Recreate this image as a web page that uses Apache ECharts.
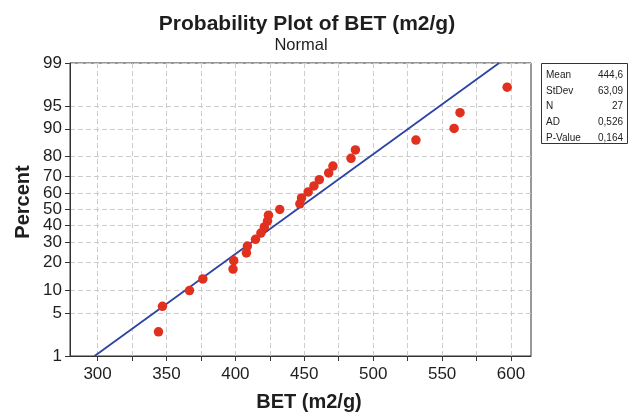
<!DOCTYPE html>
<html>
<head>
<meta charset="utf-8">
<script src="https://cdn.jsdelivr.net/npm/echarts@6/dist/echarts.min.js"></script>
<style>
  html, body { margin: 0; padding: 0; background: #fff; }
  #chart { width: 629px; height: 413px; }
</style>
</head>
<body>
<div id="chart"></div>
<script>
// BET surface area measurements (m2/g), sorted, with their plotting percentages
const betValues = [344.2, 347.1, 366.7, 376.4, 398.3, 398.8, 408.0, 408.7, 414.6, 418.5,
                   421.0, 423.3, 424.0, 432.2, 446.8, 448.0, 452.8, 457.0, 460.9, 467.7,
                   470.8, 483.9, 487.1, 531.0, 558.7, 563.0, 597.2];
const percentValues = [2.6, 6.2, 9.9, 13.5, 17.2, 20.8, 24.5, 28.1, 31.8, 35.4,
                       39.1, 42.7, 46.4, 50.0, 53.6, 57.3, 61.0, 64.6, 68.2, 71.9,
                       75.5, 79.2, 82.8, 86.5, 90.1, 93.8, 97.4];

// Summary statistics table
const statNames = ['Mean', 'StDev', 'N', 'AD', 'P-Value'];
const statTexts = ['444,6', '63,09', '27', '0,526', '0,164'];
const fitMean = 444.6;
const fitStDev = 63.09;

// Axis ticks
const percentTicks = [1, 5, 10, 20, 30, 40, 50, 60, 70, 80, 90, 95, 99];
const betTicks = [300, 325, 350, 375, 400, 425, 450, 475, 500, 525, 550, 575, 600];
const betLabels = [300, 350, 400, 450, 500, 550, 600];

// Inverse standard normal CDF (Acklam's rational approximation)
function normInv(p) {
  const a = [-3.969683028665376e+01, 2.209460984245205e+02, -2.759285104469687e+02,
             1.383577518672690e+02, -3.066479806614716e+01, 2.506628277459239e+00];
  const b = [-5.447609879822406e+01, 1.615858368580409e+02, -1.556989798598866e+02,
             6.680131188771972e+01, -1.328068155288572e+01];
  const c = [-7.784894002430293e-03, -3.223964580411365e-01, -2.400758277161838e+00,
             -2.549671010862040e+00, 4.374664141464968e+00, 2.938163982698783e+00];
  const d = [7.784695709041462e-03, 3.224671290700398e-01, 2.445134137142996e+00,
             3.754408661907416e+00];
  const pl = 0.02425;
  let q, r;
  if (p < pl) {
    q = Math.sqrt(-2 * Math.log(p));
    return (((((c[0]*q+c[1])*q+c[2])*q+c[3])*q+c[4])*q+c[5]) /
           ((((d[0]*q+d[1])*q+d[2])*q+d[3])*q+1);
  }
  if (p <= 1 - pl) {
    q = p - 0.5; r = q * q;
    return (((((a[0]*r+a[1])*r+a[2])*r+a[3])*r+a[4])*r+a[5])*q /
           (((((b[0]*r+b[1])*r+b[2])*r+b[3])*r+b[4])*r+1);
  }
  q = Math.sqrt(-2 * Math.log(1 - p));
  return -(((((c[0]*q+c[1])*q+c[2])*q+c[3])*q+c[4])*q+c[5]) /
          ((((d[0]*q+d[1])*q+d[2])*q+d[3])*q+1);
}
const probit = pct => normInv(pct / 100);

const zMin = probit(percentTicks[0]);
const zMax = probit(percentTicks[percentTicks.length - 1]);
const zTicks = percentTicks.map(probit);

const points = betValues.map((v, i) => [v, probit(percentValues[i])]);
// Fitted normal line across the probability range
const fitLine = [
  [fitMean + zMin * fitStDev, zMin],
  [fitMean + zMax * fitStDev, zMax]
];

const FONT = '"Liberation Sans", Arial, sans-serif';
const gridStyle = { color: '#cccccc', width: 1, type: [5, 3] };

const chart = echarts.init(document.getElementById('chart'), null, { renderer: 'canvas' });

const statGraphics = [{
  type: 'rect',
  shape: { x: 541.5, y: 63.5, width: 86, height: 80 },
  style: { fill: '#fff', stroke: '#333', lineWidth: 1 }
}];
statNames.forEach((name, i) => {
  const y = 75 + i * 15.8;
  statGraphics.push({
    type: 'text', x: 546, y: y,
    style: { text: name, font: '10px ' + FONT, fill: '#222', textVerticalAlign: 'middle' }
  });
  statGraphics.push({
    type: 'text', x: 623, y: y,
    style: { text: statTexts[i], font: '10px ' + FONT, fill: '#222', textAlign: 'right', textVerticalAlign: 'middle' }
  });
});

chart.setOption({
  animation: false,
  backgroundColor: '#fff',
  grid: {
    left: 70, top: 63, width: 461, height: 293,
    show: true, borderColor: '#333', borderWidth: 1, backgroundColor: 'transparent'
  },
  graphic: [
    {
      type: 'text', x: 307, y: 24,
      style: { text: 'Probability Plot of BET (m2/g)', font: 'bold 21px ' + FONT, fill: '#1e1e1e',
               textAlign: 'center', textVerticalAlign: 'middle' }
    },
    {
      type: 'text', x: 301, y: 45,
      style: { text: 'Normal', font: '16.5px ' + FONT, fill: '#1e1e1e',
               textAlign: 'center', textVerticalAlign: 'middle' }
    },
    {
      type: 'text', x: 309, y: 402,
      style: { text: 'BET (m2/g)', font: 'bold 20px ' + FONT, fill: '#1e1e1e',
               textAlign: 'center', textVerticalAlign: 'middle' }
    },
    {
      type: 'text', x: 23, y: 202, rotation: Math.PI / 2,
      style: { text: 'Percent', font: 'bold 20px ' + FONT, fill: '#1e1e1e',
               textAlign: 'center', textVerticalAlign: 'middle' }
    }
  ].concat(statGraphics),
  xAxis: {
    type: 'value', min: 280, max: 614.5,
    axisLine: { show: true, onZero: false, lineStyle: { color: '#333' } },
    axisTick: { show: true, customValues: betTicks, length: 5, lineStyle: { color: '#333' } },
    axisLabel: { customValues: betLabels, fontFamily: FONT, fontSize: 17, color: '#1e1e1e', margin: 10 },
    splitLine: { show: true, lineStyle: gridStyle }
  },
  yAxis: {
    type: 'value', min: zMin, max: zMax,
    axisLine: { show: true, onZero: false, lineStyle: { color: '#333' } },
    axisTick: { show: true, customValues: zTicks, length: 5, lineStyle: { color: '#333' } },
    axisLabel: {
      customValues: zTicks, fontFamily: FONT, fontSize: 17, color: '#1e1e1e', margin: 8,
      formatter: v => {
        let best = 0;
        zTicks.forEach((z, i) => { if (Math.abs(z - v) < Math.abs(zTicks[best] - v)) best = i; });
        return String(percentTicks[best]);
      }
    },
    splitLine: { show: true, lineStyle: gridStyle }
  },
  series: [
    {
      type: 'line', data: fitLine, symbol: 'none', silent: true,
      lineStyle: { color: '#2c43a5', width: 1.8 }, z: 2
    },
    {
      type: 'scatter', data: points, symbol: 'circle', symbolSize: 9.5,
      itemStyle: { color: '#e2301f', opacity: 1 }, z: 3
    }
  ]
});
</script>
</body>
</html>
